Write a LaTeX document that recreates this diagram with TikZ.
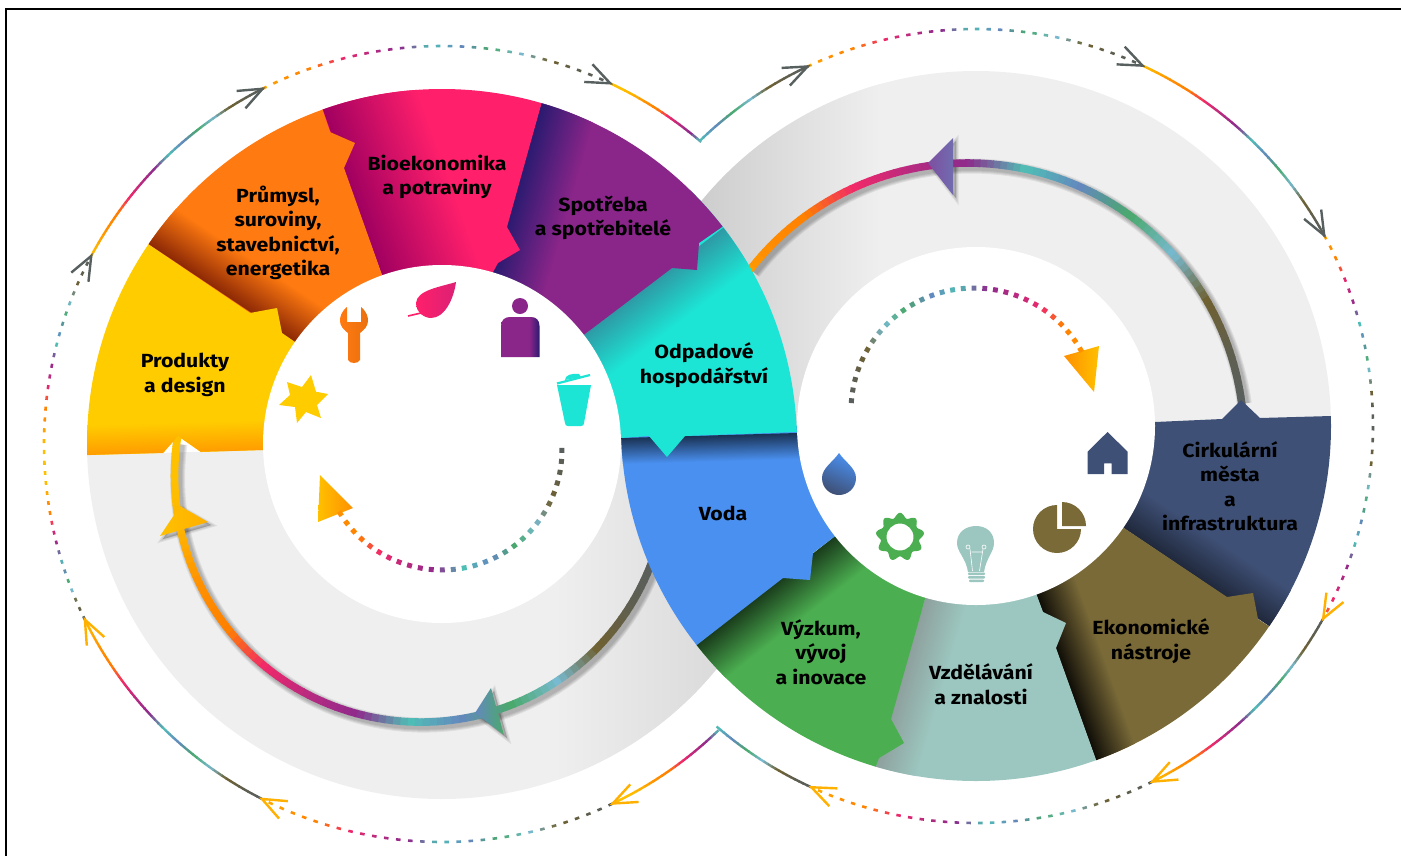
\documentclass[tikz,border=0pt]{standalone}
\usepackage{fontspec}
\setmainfont{Fira Sans}[FakeStretch=1.12]
\usetikzlibrary{calc,positioning}
\definecolor{colYellow}{HTML}{FFCC00}
\definecolor{colOrange}{HTML}{FF7A10}
\definecolor{colPink}{HTML}{FF1F6B}
\definecolor{colPinkDeep}{HTML}{A00060}
\definecolor{colPurple}{HTML}{8A2589}
\definecolor{colCyan}{HTML}{1CE5D5}
\definecolor{colBlue}{HTML}{4A90F0}
\definecolor{colGreen}{HTML}{4BAE50}
\definecolor{colTeal}{HTML}{9CC7C0}
\definecolor{colBrown}{HTML}{7A6A38}
\definecolor{colNavy}{HTML}{3F5076}
\definecolor{colRing}{HTML}{EFEFEF}
\definecolor{colInk}{HTML}{2A1A70}
% gradient along the arrows, 15 equal stops
\definecolor{rb0}{HTML}{585F5F}
\definecolor{rb1}{HTML}{5F5F50}
\definecolor{rb2}{HTML}{6F6030}
\definecolor{rb3}{HTML}{78BAD0}
\definecolor{rb4}{HTML}{4AA96C}
\definecolor{rb5}{HTML}{6488BE}
\definecolor{rb6}{HTML}{4FBFB5}
\definecolor{rb7}{HTML}{8E2A8C}
\definecolor{rb8}{HTML}{B82A80}
\definecolor{rb9}{HTML}{F0286A}
\definecolor{rb10}{HTML}{FF8000}
\definecolor{rb11}{HTML}{FF9000}
\definecolor{rb12}{HTML}{FFB000}
\definecolor{rb13}{HTML}{FFC000}
\definecolor{rb14}{HTML}{FFC000}
\pgfdeclarehorizontalshading{personshade}{100bp}{color(0bp)=(colPurple); color(62bp)=(colPurple); color(75bp)=(colInk); color(100bp)=(colInk)}
\tikzset{
  lbl/.style={font=\bfseries\fontsize{19}{24.5}\selectfont,align=center,inner sep=0pt,text=black},
  barb/.style={line width=2.4pt,line join=miter},
}
\def\arcduty{1.15}
\newcommand{\rainbowarc}[9]{% cx,cy,r,from,to,t from,t to,steps,width
  \foreach \i in {1,...,#8}{%
    \pgfmathsetmacro{\aS}{#4+(\i-1)/#8*(#5-#4)}
    \pgfmathsetmacro{\aE}{\aS+\arcduty/#8*(#5-#4)}
    \pgfmathsetmacro{\tM}{14*(#6+(\i-.5)/#8*(#7-#6))}
    \pgfmathtruncatemacro{\kA}{min(13,floor(\tM))}
    \pgfmathtruncatemacro{\kB}{\kA+1}
    \pgfmathsetmacro{\mixA}{100*(\kB-\tM)}
    \colorlet{rbnow}{rb\kA!\mixA!rb\kB}
    \draw[rbnow,line width=#9] ({#1+#3*cos(\aS)},{#2+#3*sin(\aS)}) -- ({#1+#3*cos(\aE)},{#2+#3*sin(\aE)});
  }}
\newcommand{\barbhead}[5]{% cx,cy,r,angle,colour
  \draw[barb,#5] ({#1+#3*cos(#4)+26*cos(#4+248)},{#2+#3*sin(#4)+26*sin(#4+248)})
    -- ({#1+#3*cos(#4)},{#2+#3*sin(#4)})
    -- ({#1+#3*cos(#4)+26*cos(#4+292)},{#2+#3*sin(#4)+26*sin(#4+292)});}
\newcommand{\softarc}[5]{% cx,cy,r,from,to
  \foreach \w in {15,13,11,9}{%
    \draw[black,opacity=.07,line width=\w pt] plot[domain=#4:#5,samples=70] ({#1+3+#3*cos(\x)},{#2+3+#3*sin(\x)});
  }}
\newcommand{\edgeshade}[7]{% x1,y1,x2,y2,width,dark,base; shade lies right of the way
  \pgfmathsetmacro{\shadeAng}{atan2(-(#3-#1),-(#4-#2))}
  \begin{scope}[transform canvas={shift={(#1,#2)},rotate=\shadeAng}]
    \shade[left color=#6,right color=#7] (0,-900) rectangle (#5,900);
  \end{scope}}
\newcommand{\ringsector}[4]{% centre,outline,colour,shades
  \begin{scope}
    \clip (#1) circle (355pt);
    \clip #2;
    \fill[#3] (0,0) rectangle (1401,855);
    #4
  \end{scope}}
\newcommand{\softhead}[1]{%
  \foreach \w in {5,3,1}{%
    \draw[black,fill=black,opacity=.07,line width=\w pt,shift={(3,3)}] #1;
  }}

\begin{document}
\begin{tikzpicture}[x=1pt,y=-1pt]
\useasboundingbox (0,0) rectangle (1401,855);
\coordinate (lc) at (442,444);
\coordinate (rc) at (976,426);
% --- Frame -----------------------------------------------------------------
\draw[black,line width=1.2pt] (6,860) -- (6,9) -- (1410,9);

% --- Grey half rings -------------------------------------------------------
\ringsector{lc}{(0,457.5) -- (263,450) -- (442,447) -- (900,447) -- (900,900) -- (0,900) -- cycle}{colRing}{%
  \edgeshade{725}{0}{725}{900}{170}{black!9!colRing}{colRing}}
\ringsector{rc}{(500,0) -- (1401,0) -- (1401,414) -- (1155,422) -- (976,426) -- (500,426) -- cycle}{colRing}{%
  \edgeshade{690}{900}{690}{0}{190}{black!15!colRing}{colRing}}

% --- Big arrows ------------------------------------------------------------
\softarc{421}{475.6}{246.5}{21.8}{188}
\softarc{968}{439}{276}{-8}{-142}
\softhead{(928,163) -- (953,138) -- (953,195) -- cycle}
\softhead{(180,506) -- (160,536) -- (208,522) -- cycle}
\softhead{(475,713) -- (491,688) -- (504,735) -- cycle}
\rainbowarc{421}{475.6}{246.5}{20}{190}{0}{1}{100}{7.6pt}
\rainbowarc{968}{439}{276}{-6}{-144}{0}{.82}{100}{7.6pt}
\shade[left color=rb5,right color=rb4] (475,713) -- (491,688) -- (504,735) -- cycle;
\shade[left color=rb7!60!rb5,right color=rb5!70!rb7] (928,163) -- (953,138) -- (953,195) -- cycle;
\shade[left color=rb13,right color=rb12] (180,506) -- (160,536) -- (208,522) -- cycle;

% --- Ring sectors, lowest first --------------------------------------------
\ringsector{rc}{(976,426) -- (1155,422) -- (1222,419) -- (1241,400) -- (1260,418) -- (1331,416) -- (1401,415) -- (1401,640) -- (1290,640) -- (1124,528) -- cycle}{colNavy}{%
  \edgeshade{1269}{626}{1124}{528}{42}{colNavy!50!black}{colNavy}}
\ringsector{rc}{(976,426) -- (1124,528) -- (1227,597) -- (1253,593) -- (1258,619) -- (1290,640) -- (1300,800) -- (1105,785) -- (1037,596) -- cycle}{colBrown}{%
  \edgeshade{1096}{760}{1037}{596}{42}{colBrown!12!black}{colBrown}}
\ringsector{rc}{(976,426) -- (1037,596) -- (1043,612) -- (1066,623) -- (1056,648) -- (1105,785) -- (860,810) -- (925,599) -- cycle}{colTeal}{%
  \edgeshade{876}{767}{925}{599}{42}{colTeal!60!black!70}{colTeal}}
\ringsector{rc}{(976,426) -- (925,599) -- (891,719) -- (904,743) -- (879,758) -- (860,810) -- (640,790) -- (680,658) -- (834,537) -- cycle}{colGreen}{%
  \edgeshade{680}{658}{834}{537}{44}{colGreen!35!black}{colGreen}}
\ringsector{rc}{(976,426) -- (834,537) -- (813,553) -- (810,580) -- (783,578) -- (680,658) -- (590,658) -- (590,426) -- cycle}{colBlue}{%
  \edgeshade{621}{438}{797}{433}{26}{colBlue!35!black}{colBlue}}
\ringsector{lc}{(442,444) -- (621,438) -- (649,436) -- (667,457) -- (685,436) -- (797,432) -- (850,431) -- (850,180) -- (700,180) -- (585,334) -- cycle}{colCyan}{%
  \edgeshade{585}{334}{745}{211}{48}{colCyan!50!colNavy}{colCyan}}
\ringsector{lc}{(442,444) -- (585,334) -- (672,268) -- (697,270) -- (699,243) -- (745,211) -- (600,50) -- (548,80) -- (493,272) -- cycle}{colPurple}{%
  \edgeshade{493}{272}{548}{80}{55}{colInk}{colPurple}}
\ringsector{lc}{(442,444) -- (493,272) -- (498,263) -- (520,250) -- (507,227) -- (548,80) -- (300,50) -- (382,275) -- cycle}{colPink}{%
  \edgeshade{382}{275}{323}{110}{95}{colPinkDeep}{colPink}}
\ringsector{lc}{(442,444) -- (382,275) -- (344,168) -- (355,143) -- (330,132) -- (316,90) -- (100,100) -- (130,232) -- cycle}{colOrange}{%
  \edgeshade{295}{342}{150}{245}{45}{red!40!colOrange!55!black}{colOrange}}
\ringsector{lc}{(442,444) -- (295,342) -- (282,333) -- (277,308) -- (250,313) -- (130,232) -- (0,232) -- (0,457.5) -- (163,453) -- (178,436) -- (201,452) -- (263,450) -- cycle}{colYellow}{%
  \edgeshade{263}{450}{87}{455}{30}{rb11!80!colYellow}{colYellow}}

% --- White centres ---------------------------------------------------------
\fill[white] (lc) circle (179pt);
\fill[white] (rc) circle (179pt);

% --- Inner dotted arrows ---------------------------------------------------
\shade[left color=rb13,right color=rb11] (320,475) -- (318,522) -- (353,508) -- cycle;
\shade[left color=rb11,right color=rb13] (1094,392) -- (1064,356) -- (1099,346) -- cycle;
\def\arcduty{.45}
\rainbowarc{442}{450}{120}{-1}{152}{0}{.8}{29}{5pt}
\rainbowarc{974}{411}{123}{183.7}{334}{0}{.8}{30}{5pt}

% --- Outer thin arrows -----------------------------------------------------
\def\arcduty{.38}
\rainbowarc{442}{444}{398}{153.8}{177}{0}{1}{16}{2.6pt}
\rainbowarc{442}{444}{398}{177}{208.2}{1}{0}{20}{2.6pt}
\rainbowarc{442}{444}{398}{243.2}{295}{.85}{0}{30}{2.6pt}
\rainbowarc{976}{426}{397}{-115.1}{-65.2}{.85}{0}{30}{2.6pt}
\rainbowarc{976}{426}{397}{-28.7}{0}{.85}{0}{17}{2.6pt}
\rainbowarc{976}{426}{397}{0}{29}{0}{.7}{17}{2.6pt}
\rainbowarc{976}{426}{397}{63.6}{114.5}{0}{.85}{30}{2.6pt}
\rainbowarc{442}{444}{398}{64.6}{116.9}{0}{.85}{30}{2.6pt}
\def\arcduty{1.15}
\rainbowarc{442}{444}{398}{208.2}{243.2}{.9}{0}{50}{2.4pt}
\rainbowarc{442}{444}{398}{295}{310.5}{1}{.43}{20}{2.4pt}
\rainbowarc{976}{426}{397}{-134.2}{-115.1}{.43}{0}{25}{2.4pt}
\rainbowarc{976}{426}{397}{-65.2}{-28.7}{.9}{0}{50}{2.4pt}
\rainbowarc{976}{426}{397}{29}{63.6}{0}{.9}{50}{2.4pt}
\rainbowarc{976}{426}{397}{114.5}{130.7}{0}{.43}{25}{2.4pt}
\rainbowarc{442}{444}{398}{46}{64.6}{.43}{1}{25}{2.4pt}
\rainbowarc{442}{444}{398}{116.9}{153.8}{0}{.9}{50}{2.4pt}
\barbhead{442}{444}{398}{208.2}{rb0}
\barbhead{442}{444}{398}{243.2}{rb0}
\barbhead{442}{444}{398}{295}{rb0}
\barbhead{976}{426}{397}{-115.1}{rb0}
\barbhead{976}{426}{397}{-65.2}{rb0}
\barbhead{976}{426}{397}{-28.7}{rb0}
\barbhead{976}{426}{397}{29}{rb12}
\barbhead{976}{426}{397}{63.6}{rb12}
\barbhead{976}{426}{397}{114.5}{rb12}
\barbhead{442}{444}{398}{64.6}{rb12}
\barbhead{442}{444}{398}{116.9}{rb12}
\barbhead{442}{444}{398}{153.8}{rb12}

% --- Icons -----------------------------------------------------------------
\shade[left color=colOrange,middle color=colOrange,right color=colOrange!92!black]
  (347,307) .. controls (341,312) and (340,317) .. (340,321) .. controls (340,326) and (344,330) .. (348,333)
  -- (348,360) .. controls (350,364) and (358,364) .. (360,360) -- (360,333)
  .. controls (364,330) and (368,326) .. (368,321) .. controls (368,317) and (367,312) .. (361,307)
  -- (361,322) -- (347,322) -- cycle;
\shade[left color=colPink,right color=colPink!70!colPurple]
  (456,282) .. controls (440,287) and (417,290) .. (416,303) .. controls (416,313) and (425,318) .. (431,318)
  .. controls (445,318) and (454,298) .. (456,282) -- cycle;
\draw[colPink,line width=1.6pt] (421,313) -- (408,316);
\fill[colPurple] (520,306) circle (8pt);
\shade[shading=personshade]
  (501,357) -- (501,326) .. controls (501,320) and (505,317) .. (510,317) -- (531,317)
  .. controls (536,317) and (539.5,320) .. (539.5,326) -- (539.5,357) -- cycle;
\fill[colCyan] (557,385) -- (591,385) -- (584,423) .. controls (584,425) and (583,426) .. (581,426)
  -- (568,426) .. controls (566,426) and (565,425) .. (565,423) -- cycle;
\draw[colCyan,line width=2.2pt] (557,383.5) -- (590,375);
\fill[colCyan] (565,380) .. controls (565,375) and (572,373) .. (579,374) -- (581,377) -- cycle;
\fill[colYellow] (311,375) -- (316,391.7) -- (328,394) -- (317,405) -- (321,418) -- (306,412) -- (297,423)
  -- (295,407) -- (279,405) -- (290,395) -- (287,382) -- (302,387) -- cycle;
\shade[top color=colBlue,middle color=colBlue,bottom color=colNavy,shading angle=-25]
  (839,453) .. controls (833,462) and (822,468) .. (822,478) .. controls (822,488) and (830,495) .. (839,495)
  .. controls (848,495) and (856,488) .. (856,478) .. controls (856,468) and (845,462) .. (839,453) -- cycle;
\fill[colGreen,even odd rule] plot[domain=0:360,samples=180] ({900+(21.8+2.4*cos(9*(\x+90)))*cos(\x)},{537+(21.8+2.4*cos(9*(\x+90)))*sin(\x)}) -- cycle
  (900,537) circle (13.5pt);
\fill[colTeal] (968,572) .. controls (966,558) and (957,552) .. (957,543) .. controls (957,532) and (966,526) .. (976,526)
  .. controls (986,526) and (994,532) .. (994,543) .. controls (994,552) and (986,558) .. (984,572) -- cycle;
\fill[colTeal,rounded corners=1pt] (968,572.5) rectangle (985,575);
\fill[colTeal,rounded corners=1pt] (968,576) rectangle (985,578.5);
\fill[colTeal,rounded corners=1pt] (969,579.5) rectangle (984,582);
\draw[white,line width=.6pt] (972.5,571) -- (970,549) (979.5,571) -- (983,549) (971.5,552) -- (982,552);
\draw[white,line width=.6pt] (968,547) circle (2pt) (984,547) circle (2pt);
\fill[colBrown] (1057,529) -- (1057,505) arc[start angle=90,end angle=360,radius=24pt] -- cycle;
\fill[colBrown] (1062,526) -- (1062,502) arc[start angle=90,end angle=0,radius=24pt] -- cycle;
\fill[colNavy,even odd rule] (1107.5,432) -- (1127.7,451.7) -- (1127.7,474) -- (1111.7,474) -- (1111.7,463.3)
  -- (1104,463.3) -- (1104,474) -- (1087.7,474) -- (1087.7,451.7) -- cycle;

% --- Labels ----------------------------------------------------------------
\node[lbl] (prod) at (185,375) {Produkty\\a design};
\node[lbl] (prum) at (278,233) {Průmysl,\\suroviny,\\stavebnictví,\\energetika};
\node[lbl] (bio) at (437,177) {Bioekonomika\\a potraviny};
\node[lbl] (spot) at (603,218) {Spotřeba\\a spotřebitelé};
\node[lbl] (odpad) at (704,365) {Odpadové\\hospodářství};
\node[lbl] (voda) at (723,513) {Voda};
\node[lbl] (vyzk) at (821,652) {Výzkum,\\vývoj\\a inovace};
\node[lbl] (vzde) at (981,684) {Vzdělávání\\a znalosti};
\node[lbl] (ekon) at (1151,641) {Ekonomické\\nástroje};
\node[lbl] (cirk) at (1230,486) {Cirkulární\\města\\a\\infrastruktura};
\end{tikzpicture}
\end{document}
